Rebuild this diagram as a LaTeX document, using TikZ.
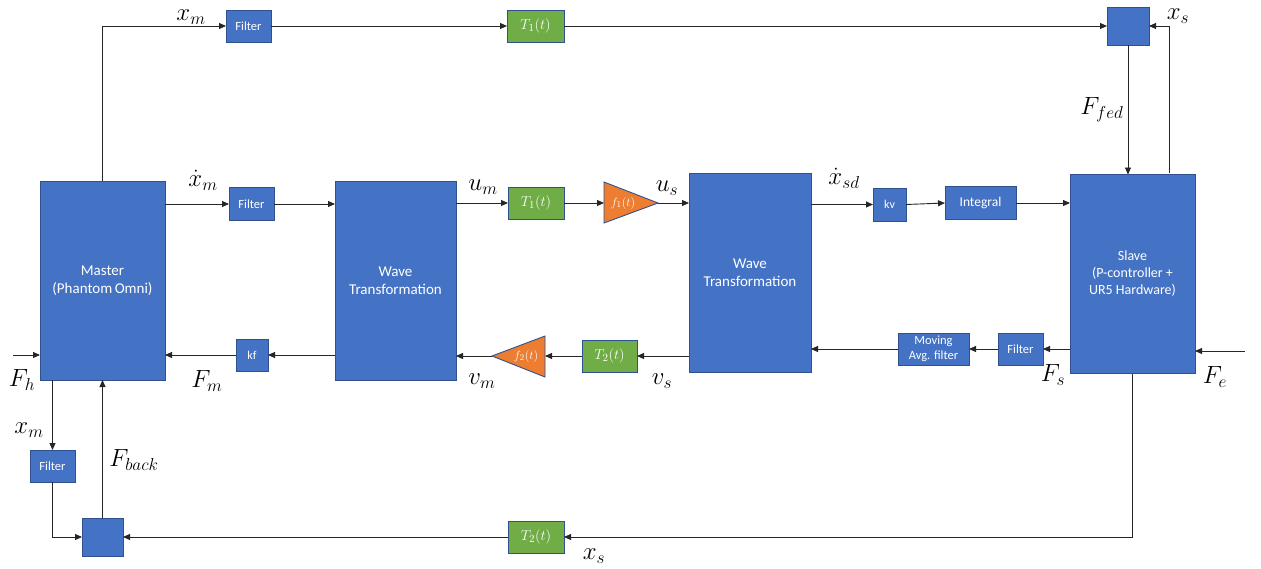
\documentclass[tikz,border=0pt]{standalone}
\usepackage{fontspec}
\setmainfont{Carlito}
\usetikzlibrary{arrows.meta,calc}
\definecolor{blkblue}{HTML}{4472C4}
\definecolor{blkedge}{HTML}{2F528F}
\definecolor{dlygreen}{HTML}{70AD47}
\definecolor{gainorange}{HTML}{ED7D31}
\definecolor{wire}{HTML}{262626}
\tikzset{
  blk/.style={draw=blkedge, fill=blkblue, line width=0.9pt, text=white,
    inner sep=0pt, outer sep=0pt, align=center,
    font=\fontsize{15}{18.5}\selectfont},
  smallblk/.style={blk, font=\fontsize{12.5}{14}\selectfont},
  delay/.style={blk, fill=dlygreen, font=\fontsize{15.5}{18}\selectfont},
  gain/.style={draw=blkedge, fill=gainorange, line width=0.9pt},
  gaintext/.style={text=white, inner sep=0pt, font=\fontsize{13}{15}\selectfont},
  sig/.style={draw=wire, line width=0.9pt, -{Triangle[length=7pt,width=6pt]}},
  lbl/.style={inner sep=0pt, font=\fontsize{24}{28}\selectfont},
}
\begin{document}
\begin{tikzpicture}[x=1pt,y=-1pt]
\useasboundingbox (0,0) rectangle (1261,568);

% main blocks
\node[blk, minimum width=125pt, minimum height=199pt] (master) at (102.5,280.5)
  {Master\\(Phantom\,Omni)};
\node[blk, minimum width=121pt, minimum height=199pt] (wave1) at (395.5,280.5)
  {Wave\\Transformation};
\node[blk, minimum width=122pt, minimum height=199pt] (wave2) at (750,272.5)
  {Wave\\Transformation};
\node[blk, minimum width=125pt, minimum height=199pt,
  font=\fontsize{14}{17}\selectfont] (slave) at (1132.5,274)
  {Slave\\(P-controller +\\UR5 Hardware)};

% top path
\node[smallblk, minimum width=45pt, minimum height=32pt] (filtTop) at (248.5,26) {Filter};
\node[delay, minimum width=57pt, minimum height=32pt] (T1top) at (535.5,26) {$T_1(t)$};
\node[blk, minimum width=42pt, minimum height=38pt] (sumTop) at (1128,26) {};

% forward channel
\node[smallblk, minimum width=45pt, minimum height=33pt] (filtV) at (251.5,204) {Filter};
\node[delay, minimum width=56pt, minimum height=32pt] (T1mid) at (536,203) {$T_1(t)$};
\draw[gain] (604,182) -- (658,203) -- (604,223) -- cycle;
\coordinate (f1in) at (604,203);
\coordinate (f1out) at (658,203);
\node[gaintext] (f1) at (623,203) {$f_1(t)$};
\node[smallblk, font=\fontsize{12}{14}\selectfont, minimum width=33pt, minimum height=33pt] (kv) at (889.5,204.5) {kv};
\node[blk, font=\fontsize{13.5}{16}\selectfont, minimum width=71pt, minimum height=33pt] (integral) at (980.5,203) {Integral};

% return channel
\node[smallblk, minimum width=45pt, minimum height=32pt] (filtS) at (1020.5,349) {Filter};
\node[smallblk, font=\fontsize{12.5}{14.5}\selectfont, minimum width=71pt, minimum height=32pt] (mavg) at (933.5,349) {Moving\\Avg. filter};
\node[delay, minimum width=55pt, minimum height=32pt] (T2mid) at (609.5,356) {$T_2(t)$};
\draw[gain] (545,336) -- (492,356) -- (545,377) -- cycle;
\coordinate (f2in) at (545,356);
\coordinate (f2out) at (492,356);
\node[gaintext] (f2) at (526,356) {$f_2(t)$};
\node[smallblk, font=\fontsize{12}{14}\selectfont, minimum width=32pt, minimum height=32pt] (kf) at (252,355) {kf};

% bottom path
\node[smallblk, minimum width=45pt, minimum height=32pt] (filtB) at (52.5,466) {Filter};
\node[blk, minimum width=41pt, minimum height=38pt] (sumBot) at (102.5,537) {};
\node[delay, minimum width=56pt, minimum height=32pt] (T2bot) at (536,537) {$T_2(t)$};

% external inputs
\coordinate (fh) at (13,355);
\coordinate (fe) at (1245,351);
\coordinate (xsTap) at (1169,173);

% connectors: top path
\draw[sig] (master.north) |- (filtTop.west);
\draw[sig] (filtTop.east) -- (T1top.west);
\draw[sig] (T1top.east) -- (sumTop.west);
\draw[sig] (xsTap) |- (sumTop.east);
\draw[sig] (sumTop.south) -- (sumTop.south |- slave.north);

% connectors: forward channel
\draw[sig] (master.east |- filtV.west) -- (filtV.west);
\draw[sig] (filtV.east) -- (wave1.west |- filtV.east);
\draw[sig] (wave1.east |- T1mid.west) -- (T1mid.west);
\draw[sig] (T1mid.east) -- (f1in);
\draw[sig] (f1out) -- (wave2.west |- f1out);
\draw[sig] (wave2.east |- kv.west) -- (kv.west);
\draw[sig] (kv.east) -- (integral.west);
\draw[sig] (integral.east) -- (slave.west |- integral.east);

% connectors: return channel
\draw[sig] (slave.west |- filtS.east) -- (filtS.east);
\draw[sig] (filtS.west) -- (mavg.east);
\draw[sig] (mavg.west) -- (wave2.east |- mavg.west);
\draw[sig] (wave2.west |- T2mid.east) -- (T2mid.east);
\draw[sig] (T2mid.west) -- (f2in);
\draw[sig] (f2out) -- (wave1.east |- f2out);
\draw[sig] (wave1.west |- kf.east) -- (kf.east);
\draw[sig] (kf.west) -- (master.east |- kf.west);
\draw[sig] (fh) -- (master.west |- fh);
\draw[sig] (fe) -- (slave.east |- fe);

% connectors: bottom path
\draw[sig] (master.south -| filtB.north) -- (filtB.north);
\draw[sig] (filtB.south) |- (sumBot.west);
\draw[sig] (sumBot.north) -- (sumBot.north |- master.south);
\draw[sig] (slave.south) |- (T2bot.east);
\draw[sig] (T2bot.west) -- (sumBot.east);

% signal labels
\node[lbl] (lxm) at (191,17) {$x_m$};
\node[lbl] (lxs) at (1178,16) {$x_s$};
\node[lbl] (lffed) at (1102,110) {$F_{fed}$};
\node[lbl] (lxmdot) at (203,180) {$\dot{x}_m$};
\node[lbl] (lum) at (483,187) {$u_m$};
\node[lbl] (lus) at (667,188) {$u_s$};
\node[lbl] (lxsd) at (844,178) {$\dot{x}_{sd}$};
\node[lbl] (lfh) at (22,380) {$F_h$};
\node[lbl] (lfm) at (207,381) {$F_m$};
\node[lbl] (lvm) at (482,381) {$v_m$};
\node[lbl] (lvs) at (662,381) {$v_s$};
\node[lbl] (lfs) at (1053,375) {$F_s$};
\node[lbl] (lfe) at (1215,377) {$F_e$};
\node[lbl] (lxmb) at (29,430) {$x_m$};
\node[lbl] (lfback) at (134,460) {$F_{back}$};
\node[lbl] (lxsb) at (594,556) {$x_s$};
\end{tikzpicture}
\end{document}
